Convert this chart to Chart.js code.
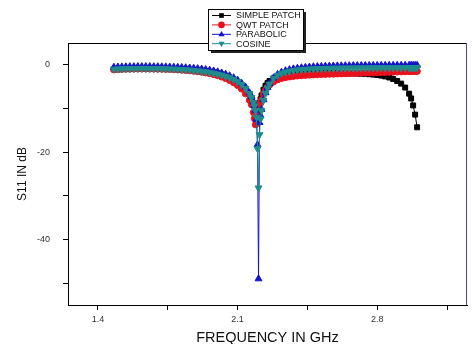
<!DOCTYPE html>
<html>
<head>
<meta charset="utf-8">
<script src="https://cdn.jsdelivr.net/npm/chart.js@4"></script>
<style>
  html, body { margin: 0; background: #fff; }
  #wrap { width: 472px; height: 344px; }
</style>
</head>
<body>
<div id="wrap"><canvas id="myChart"></canvas></div>
<script>
// frequency points (GHz), shared by all four curves
const freq = [
  1.48, 1.50, 1.52, 1.54, 1.56, 1.58, 1.60, 1.62, 1.64, 1.66,
  1.68, 1.70, 1.72, 1.74, 1.76, 1.78, 1.80, 1.82, 1.84, 1.86,
  1.88, 1.90, 1.92, 1.94, 1.96, 1.98, 2.00, 2.02, 2.04, 2.06,
  2.08, 2.10, 2.12, 2.14, 2.16, 2.17, 2.18, 2.185, 2.19, 2.195,
  2.20, 2.205, 2.21, 2.215, 2.22, 2.23, 2.24, 2.25, 2.26, 2.28,
  2.30, 2.32, 2.34, 2.36, 2.38, 2.40, 2.42, 2.44, 2.46, 2.48,
  2.50, 2.52, 2.54, 2.56, 2.58, 2.60, 2.62, 2.64, 2.66, 2.68,
  2.70, 2.72, 2.74, 2.76, 2.78, 2.80, 2.82, 2.84, 2.86, 2.88,
  2.90, 2.92, 2.94, 2.96, 2.97, 2.98, 2.99, 3.00
];

const simplePatch = [
  -1.05, -1.0, -0.97, -0.94, -0.92, -0.9, -0.88, -0.87, -0.86, -0.86,
  -0.86, -0.87, -0.88, -0.9, -0.92, -0.95, -0.98, -1.02, -1.07, -1.12,
  -1.18, -1.26, -1.35, -1.46, -1.6, -1.77, -1.97, -2.22, -2.52, -2.9,
  -3.35, -3.9, -4.6, -5.5, -6.8, -7.7, -8.8, -9.6, -10.4, -10.9,
  -10.6, -9.8, -8.8, -7.9, -7.0, -5.7, -4.8, -4.2, -3.7, -3.1,
  -2.7, -2.5, -2.35, -2.25, -2.17, -2.1, -2.05, -2.01, -1.98, -1.96,
  -1.94, -1.93, -1.92, -1.91, -1.91, -1.91, -1.92, -1.93, -1.95, -1.97,
  -2.0, -2.04, -2.09, -2.15, -2.23, -2.33, -2.47, -2.65, -2.9, -3.25,
  -3.7, -4.3, -5.2, -6.6, -7.7, -9.3, -11.4, -14.3
];

const qwtPatch = [
  -1.1, -1.05, -1.0, -0.97, -0.95, -0.93, -0.92, -0.91, -0.91, -0.92,
  -0.93, -0.95, -0.97, -1.0, -1.03, -1.07, -1.12, -1.18, -1.25, -1.33,
  -1.42, -1.53, -1.66, -1.81, -1.99, -2.2, -2.45, -2.75, -3.1, -3.55,
  -4.05, -4.7, -5.5, -6.6, -8.1, -9.1, -10.9, -12.3, -13.7, -13.3,
  -12.2, -10.9, -9.8, -8.8, -8.0, -6.7, -5.8, -5.1, -4.6, -3.9,
  -3.4, -3.1, -2.9, -2.75, -2.62, -2.52, -2.44, -2.37, -2.31, -2.26,
  -2.22, -2.18, -2.15, -2.12, -2.09, -2.06, -2.03, -2.0, -1.97, -1.94,
  -1.91, -1.88, -1.85, -1.82, -1.79, -1.76, -1.73, -1.7, -1.67, -1.64,
  -1.61, -1.58, -1.55, -1.52, -1.5, -1.49, -1.48, -1.47
];

const parabolic = [
  -0.55, -0.5, -0.47, -0.45, -0.43, -0.42, -0.41, -0.4, -0.4, -0.41,
  -0.42, -0.43, -0.45, -0.47, -0.5, -0.53, -0.57, -0.61, -0.66, -0.72,
  -0.79, -0.87, -0.97, -1.09, -1.23, -1.4, -1.6, -1.85, -2.15, -2.5,
  -2.95, -3.5, -4.2, -5.1, -6.4, -7.3, -8.5, -9.3, -10.4, -12.5,
  -18.3, -49.0, -13.2, -11.6, -10.2, -8.0, -6.4, -5.2, -4.3, -3.0,
  -2.2, -1.7, -1.35, -1.1, -0.92, -0.78, -0.67, -0.58, -0.51, -0.45,
  -0.4, -0.36, -0.32, -0.29, -0.26, -0.24, -0.22, -0.2, -0.19, -0.18,
  -0.17, -0.16, -0.15, -0.14, -0.13, -0.13, -0.12, -0.12, -0.11, -0.11,
  -0.1, -0.1, -0.1, -0.1, -0.1, -0.1, -0.1, -0.1
];

const cosine = [
  -1.0, -0.95, -0.91, -0.88, -0.86, -0.84, -0.83, -0.82, -0.82, -0.83,
  -0.84, -0.86, -0.88, -0.91, -0.94, -0.98, -1.02, -1.07, -1.13, -1.2,
  -1.28, -1.37, -1.48, -1.6, -1.75, -1.92, -2.12, -2.35, -2.62, -2.95,
  -3.35, -3.85, -4.5, -5.4, -6.6, -7.5, -8.6, -9.4, -10.5, -12.0,
  -19.2, -28.2, -16.0, -12.4, -10.5, -8.1, -6.5, -5.3, -4.4, -3.1,
  -2.4, -1.95, -1.65, -1.45, -1.3, -1.19, -1.1, -1.03, -0.97, -0.92,
  -0.88, -0.85, -0.82, -0.8, -0.78, -0.76, -0.75, -0.74, -0.73, -0.72,
  -0.71, -0.7, -0.7, -0.69, -0.69, -0.68, -0.68, -0.68, -0.67, -0.67,
  -0.67, -0.67, -0.66, -0.66, -0.66, -0.66, -0.66, -0.66
];

const xTickValues = [1.4, 1.75, 2.1, 2.45, 2.8, 3.15];
const xTickLabels = ['1.4', '', '2.1', '', '2.8', ''];
const yTickValues = [-50, -40, -30, -20, -10, 0];
const yTickLabels = ['', '-40', '', '-20', '', '0'];

const toPoints = vals => freq.map((f, i) => ({ x: f, y: vals[i] }));

function series(label, vals, color, style, radius, rotation, order) {
  return {
    label: label,
    data: toPoints(vals),
    borderColor: color,
    backgroundColor: color,
    borderWidth: 1,
    pointStyle: style,
    pointRadius: radius,
    pointRotation: rotation,
    pointBorderWidth: 1,
    order: order
  };
}

const data = {
  datasets: [
    series('SIMPLE PATCH', simplePatch, '#000000', 'rect', 3.5, 0, 3),
    series('QWT PATCH', qwtPatch, '#e8121c', 'circle', 3.2, 0, 2),
    series('PARABOLIC', parabolic, '#1414cc', 'triangle', 4, 0, 1),
    series('COSINE', cosine, '#1f8c8c', 'triangle', 4, 180, 0)
  ]
};

// frame: top and right edges of the plot box
const frame = {
  id: 'frame',
  afterDatasetsDraw(chart) {
    const { ctx, chartArea: a } = chart;
    ctx.save();
    ctx.lineWidth = 1;
    ctx.strokeStyle = '#000';
    ctx.beginPath();
    ctx.moveTo(a.left, a.top + 0.5);
    ctx.lineTo(a.right, a.top + 0.5);
    ctx.stroke();
    ctx.strokeStyle = '#4a4a9a';
    ctx.beginPath();
    ctx.moveTo(a.right - 0.5, a.top);
    ctx.lineTo(a.right - 0.5, a.bottom);
    ctx.stroke();
    ctx.restore();
  }
};

function marker(ctx, style, rot, x, y, r) {
  ctx.beginPath();
  if (style === 'rect') {
    const s = r * Math.SQRT2;
    ctx.rect(x - s / 2, y - s / 2, s, s);
  } else if (style === 'circle') {
    ctx.arc(x, y, r, 0, Math.PI * 2);
  } else {
    const d = rot === 180 ? -1 : 1;
    ctx.moveTo(x, y - d * r);
    ctx.lineTo(x + r * 0.95, y + d * r * 0.6);
    ctx.lineTo(x - r * 0.95, y + d * r * 0.6);
    ctx.closePath();
  }
  ctx.fill();
}

// boxed legend with shadow, overlapping the top of the plot
const boxLegend = {
  id: 'boxLegend',
  afterDraw(chart) {
    const ctx = chart.ctx;
    const bx = 208, by = 9, bw = 95, bh = 41;
    ctx.save();
    ctx.fillStyle = '#222';
    ctx.fillRect(bx + 3, by + 3, bw, bh);
    ctx.fillStyle = '#fff';
    ctx.fillRect(bx, by, bw, bh);
    ctx.strokeStyle = '#000';
    ctx.lineWidth = 1;
    ctx.strokeRect(bx + 0.5, by + 0.5, bw, bh);
    ctx.font = '9px "Liberation Sans", Arial, sans-serif';
    ctx.textBaseline = 'middle';
    chart.data.datasets.forEach((ds, i) => {
      const ry = by + 6.5 + i * 9.4;
      ctx.strokeStyle = ds.borderColor;
      ctx.beginPath();
      ctx.moveTo(bx + 4, ry);
      ctx.lineTo(bx + 23, ry);
      ctx.stroke();
      ctx.fillStyle = ds.borderColor;
      marker(ctx, ds.pointStyle, ds.pointRotation, bx + 13.5, ry, 3.3);
      ctx.fillStyle = '#111';
      ctx.fillText(ds.label, bx + 28, ry + 0.5);
    });
    ctx.restore();
  }
};

const config = {
  type: 'line',
  data: data,
  options: {
    responsive: true,
    maintainAspectRatio: false,
    animation: false,
    layout: { padding: { top: 43, right: 2, left: 0, bottom: 0 } },
    plugins: {
      legend: { display: false },
      tooltip: { enabled: false }
    },
    scales: {
      x: {
        type: 'linear',
        min: 1.25,
        max: 3.25,
        afterBuildTicks: s => { s.ticks = xTickValues.map(v => ({ value: v })); },
        afterFit: s => { s.height = 39; },
        ticks: {
          autoSkip: false,
          maxRotation: 0,
          padding: 4,
          color: '#333',
          font: { family: '"Liberation Sans", Arial, sans-serif', size: 9 },
          callback: (v, i) => xTickLabels[i]
        },
        grid: { drawOnChartArea: false, tickLength: 5, tickColor: '#000' },
        border: { color: '#000', width: 1 },
        title: {
          display: true,
          text: 'FREQUENCY IN GHz',
          color: '#111',
          font: { family: '"Liberation Sans", Arial, sans-serif', size: 14.5, lineHeight: 0.85 },
          padding: { top: 0, bottom: 0 }
        }
      },
      y: {
        min: -55,
        max: 5,
        afterBuildTicks: s => { s.ticks = yTickValues.map(v => ({ value: v })); },
        afterFit: s => { s.width = 68; },
        ticks: {
          padding: 13,
          color: '#333',
          font: { family: '"Liberation Sans", Arial, sans-serif', size: 9 },
          callback: (v, i) => yTickLabels[i]
        },
        grid: { drawOnChartArea: false, tickLength: 5, tickColor: '#000' },
        border: { color: '#000', width: 1 },
        title: {
          display: true,
          text: 'S11 IN dB',
          color: '#111',
          font: { family: '"Liberation Sans", Arial, sans-serif', size: 12, lineHeight: 1.2 },
          padding: { top: 15, bottom: 0 }
        }
      }
    }
  },
  plugins: [frame, boxLegend]
};

const myChart = new Chart(document.getElementById('myChart'), config);
</script>
</body>
</html>
